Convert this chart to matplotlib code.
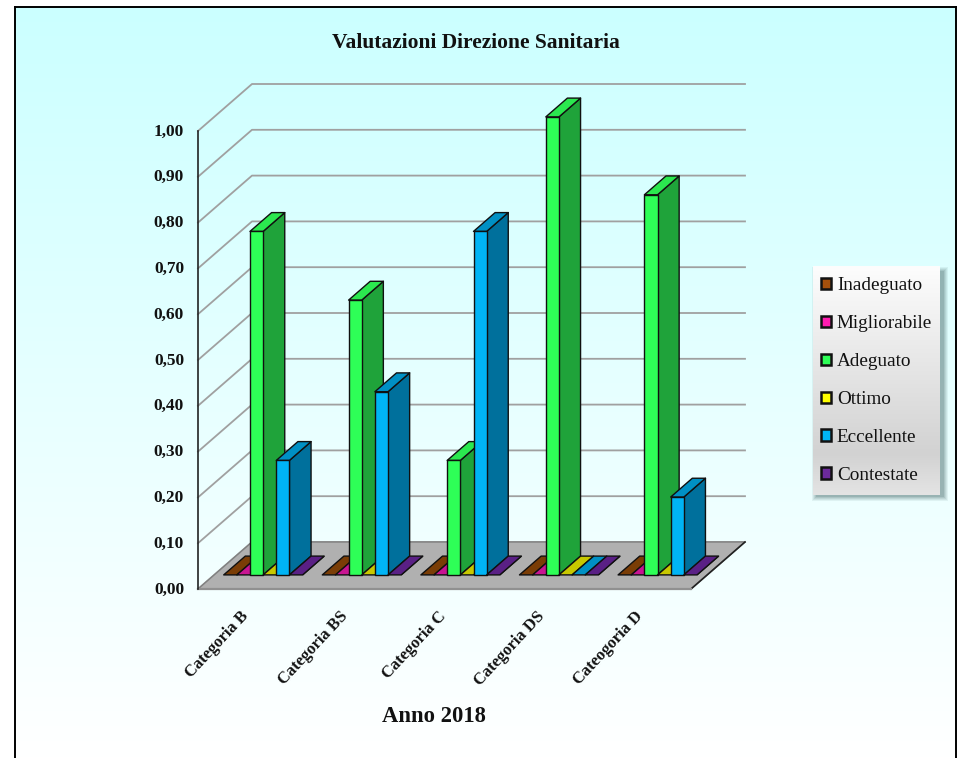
import numpy as np
import matplotlib
matplotlib.use("Agg")
import matplotlib.pyplot as plt
from matplotlib.patches import Polygon, Rectangle, Patch
from matplotlib.colors import LinearSegmentedColormap
from matplotlib.transforms import ScaledTranslation

categories = ["Categoria B", "Categoria BS", "Categoria C", "Categoria DS", "Cateogoria D"]
series = ["Inadeguato", "Migliorabile", "Adeguato", "Ottimo", "Eccellente", "Contestate"]
inadeguato = [0, 0, 0, 0, 0]
migliorabile = [0, 0, 0, 0, 0]
adeguato = [0.75, 0.60, 0.25, 1.00, 0.83]
ottimo = [0, 0, 0, 0, 0]
eccellente = [0.25, 0.40, 0.75, 0, 0.17]
contestate = [0, 0, 0, 0, 0]
values = [inadeguato, migliorabile, adeguato, ottimo, eccellente, contestate]
yticks = [i / 10 for i in range(11)]
ytick_labels = [f"{t:.2f}".replace(".", ",") for t in yticks]

front = ["#A6500C", "#FF1CB0", "#2EFF57", "#FFFF00", "#00B4F5", "#6C2A9C"]
top = ["#7A3D06", "#C81492", "#2BE84F", "#C8C800", "#0090C4", "#5A2085"]
side = ["#6E3600", "#A01078", "#1FA33A", "#A0A000", "#00709C", "#4A1A70"]

W, H = 963, 758
plt.rcParams["font.family"] = ["Liberation Serif", "DejaVu Serif"]
fig = plt.figure(figsize=(W / 100, H / 100), dpi=100, facecolor="white")


def px_axes(x0, y0, x1, y1, **kw):
    return fig.add_axes([x0 / W, 1 - y1 / H, (x1 - x0) / W, (y1 - y0) / H], **kw)


# background
bg = px_axes(15, 7, 956, 758, zorder=0)
cmap = LinearSegmentedColormap.from_list("bg", ["#CBFFFF", "#E6FFFF", "#FFFFFF"])
bg.imshow(np.linspace(0, 1, 256)[:, None], aspect="auto", cmap=cmap, extent=(0, 1, 0, 1))
bg.set_xticks([])
bg.set_yticks([])
for name, s in bg.spines.items():
    s.set_color("black")
    s.set_linewidth(1.4)
    s.set_visible(name != "bottom")

# chart (front plane in data coordinates)
ax = px_axes(198, 131, 691, 589, zorder=2)
ax.patch.set_alpha(0)
ax.set_xlim(0, 5)
ax.set_ylim(0, 1)
for s in ax.spines.values():
    s.set_visible(False)

DX, DY = 54 / 98.6, 47 / 458


def proj(x, y, d):
    return (x + d * DX, y + d * DY)


def poly(pts, **kw):
    ax.add_patch(Polygon(pts, closed=True, clip_on=False, **kw))


# floor
poly([proj(0, 0, 0), proj(5, 0, 0), proj(5, 0, 1), proj(0, 0, 1)],
     facecolor="#B0B0B0", edgecolor="#808080", lw=1.0, zorder=1)
ax.plot([5, 5 + DX], [0, DY], color="#222222", lw=1.2, clip_on=False, zorder=1.5)
ax.plot([0, 5], [0, 0], color="#909090", lw=1.6, clip_on=False, zorder=1.5)

# walls
for t in yticks:
    ax.plot(*zip(proj(0, t, 0), proj(0, t, 1), proj(5, t, 1)), color="#A0A0A0", lw=1.3,
            clip_on=False, zorder=0.8)
ax.plot([0, 0], [0, 1], color="#222222", lw=1.2, clip_on=False, zorder=1.6)

# bars
BW, D0, D1 = 13.15 / 98.6, 0.30, 0.70
GAP = 9.5 / 98.6
for c in range(len(categories)):
    for s in range(len(series)):
        v = values[s][c]
        x0 = c + GAP + s * BW
        x1 = x0 + BW
        z = 3 + c * 10 + s
        ec = dict(edgecolor="#101010", lw=1.0, joinstyle="round", zorder=z)
        poly([proj(x1, 0, D0), proj(x1, 0, D1), proj(x1, v, D1), proj(x1, v, D0)],
             facecolor=side[s], **ec)
        poly([proj(x0, v, D0), proj(x1, v, D0), proj(x1, v, D1), proj(x0, v, D1)],
             facecolor=top[s], **ec)
        if v > 0:
            poly([proj(x0, 0, D0), proj(x1, 0, D0), proj(x1, v, D0), proj(x0, v, D0)],
                 facecolor=front[s], **ec)

# axes text
ax.set_yticks(yticks)
ax.set_yticklabels(ytick_labels, fontsize=12.5, fontweight="bold", color="#111111")
ax.tick_params(axis="y", length=0, pad=10)
shift = ScaledTranslation(0, 1.5 / 100, fig.dpi_scale_trans)
for lab in ax.get_yticklabels():
    lab.set_transform(lab.get_transform() + shift)
ax.set_xticks([i + 0.43 for i in range(5)])
ax.set_xticklabels(categories, rotation=47, ha="right", va="top", rotation_mode="anchor",
                   fontsize=12, fontweight="bold", color="#111111")
ax.tick_params(axis="x", length=0, pad=14)

fig.text(476 / W, 1 - 43 / H, "Valutazioni Direzione Sanitaria", ha="center", va="center",
         fontsize=15.5, fontweight="bold", color="#111111", zorder=5)
fig.text(434 / W, 1 - 717 / H, "Anno 2018", ha="center", va="center",
         fontsize=16.3, fontweight="bold", color="#111111", zorder=5)

# legend panel with soft shadow
sh = px_axes(805, 258, 955, 510, zorder=3)
sh.axis("off")
sh.set_xlim(805, 955)
sh.set_ylim(510, 258)
for grow, alpha in [(4, 0.10), (3, 0.12), (2, 0.14), (1, 0.18), (0, 0.25)]:
    sh.add_patch(Rectangle((816 - grow, 271 - grow), 128 + 2 * grow, 226 + 2 * grow,
                           facecolor="#5F8080", alpha=alpha, edgecolor="none"))
lg = px_axes(813, 266, 940, 495, zorder=4)
lcmap = LinearSegmentedColormap.from_list("lg", [(0, "#FDFDFD"), (0.82, "#D2D2D2"), (1, "#E4E4E4")])
lg.imshow(np.linspace(0, 1, 256)[:, None], aspect="auto", cmap=lcmap, extent=(0, 1, 0, 1))
lg.axis("off")
handles = [Patch(facecolor=c, edgecolor="#111111", lw=1.8, label=n) for c, n in zip(front, series)]
leg = lg.legend(handles=handles, loc="center left", bbox_to_anchor=(0.065, 0.5), frameon=False,
                fontsize=13.8, labelspacing=1.09, handlelength=0.52, handleheight=0.52,
                handletextpad=0.3, borderpad=0, borderaxespad=0, labelcolor="#111111")

fig.savefig("out.png", dpi=100, facecolor="white")
